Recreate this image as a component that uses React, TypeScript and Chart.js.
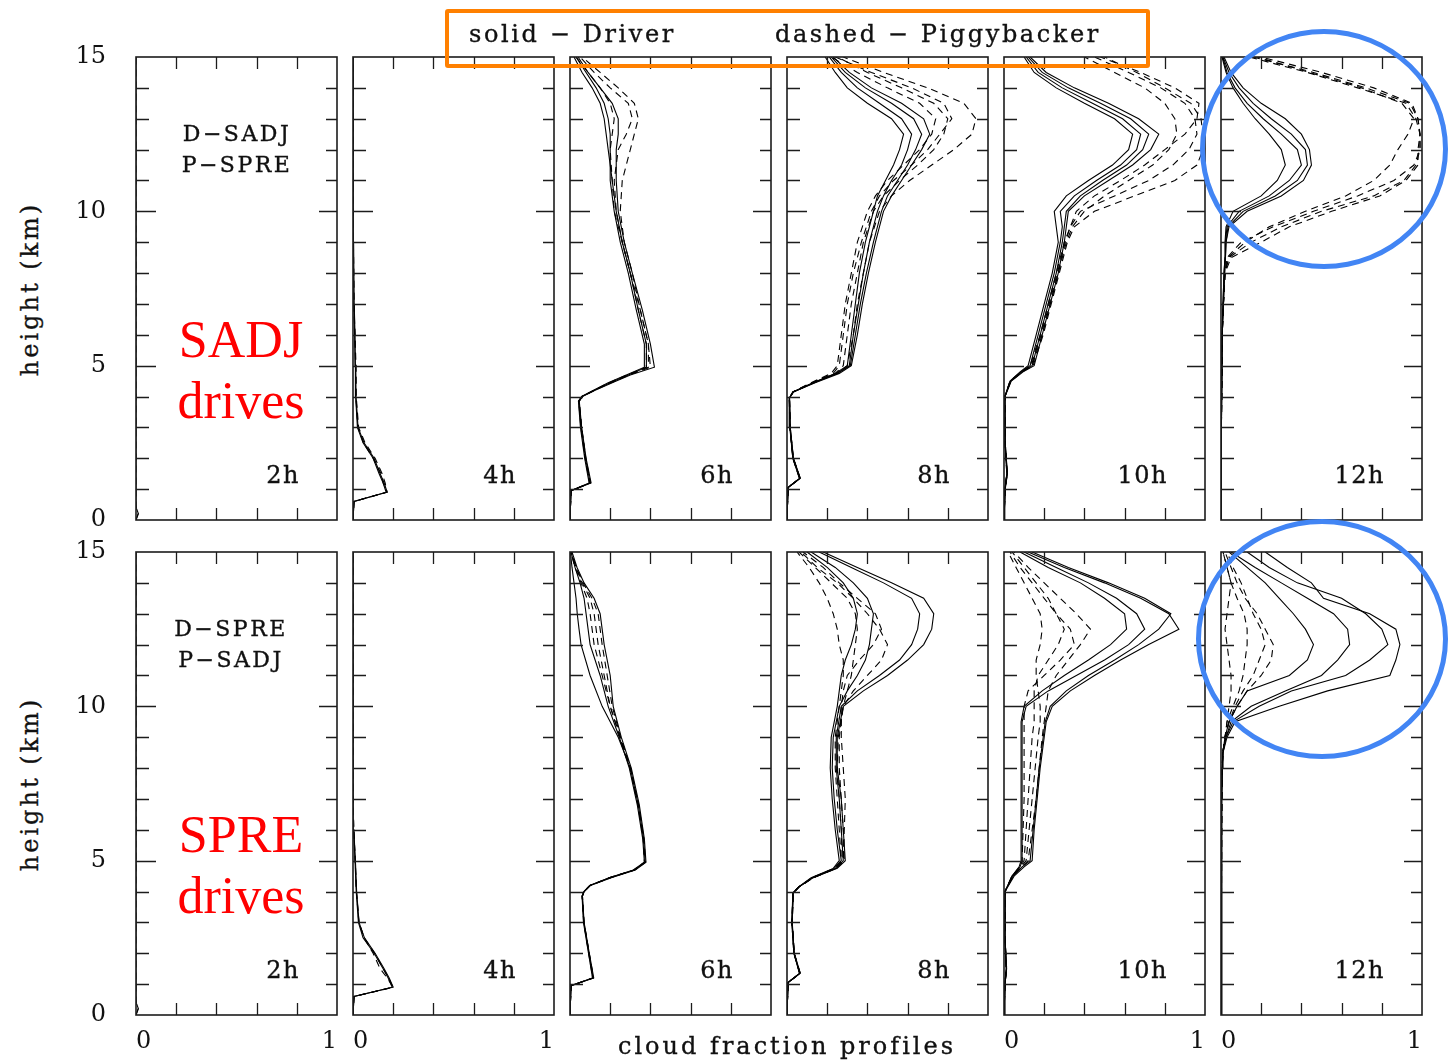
import React, { useEffect, useRef } from "react";
import { Chart, registerables } from "chart.js";

Chart.register(...registerables);

// ---------------- axis / tick definitions ----------------
const yTickValues = [0, 5, 10, 15];
const yTickLabels = ["0", "5", "10", "15"];
const xTickValues = [0, 1];
const xTickLabels = ["0", "1"];
const yTickMarks = [1, 2, 3, 4, 5, 6, 7, 8, 9, 10, 11, 12, 13, 14];
const yMajorMarks = [5, 10];
const xTickMarks = [0.2, 0.4, 0.6, 0.8];
const timeLabels = ["2h", "4h", "6h", "8h", "10h", "12h"];
const xLabelPanels = [0, 1, 4, 5];
const rowTags = [
  ["D\u2212SADJ", "P\u2212SPRE"],
  ["D\u2212SPRE", "P\u2212SADJ"],
];
const rowDrivers = [
  ["SADJ", "drives"],
  ["SPRE", "drives"],
];
const legendSolid = "solid \u2212 Driver";
const legendDashed = "dashed \u2212 Piggybacker";
const yTitle = "height (km)";
const xTitle = "cloud fraction profiles";

// ---------------- height grids (km) ----------------
const h2 = [0, 0.2, 0.35, 0.5, 15];
const h4 = [0, 0.6, 0.9, 1.2, 1.5, 2.0, 2.5, 3.0, 4.0, 5.0, 6.0, 7.0, 9.0, 15];
const h6 = [0, 0.95, 1.2, 2.0, 3.0, 3.85, 4.0, 4.2, 4.45, 4.7, 4.95, 5.7, 6.8, 8.0, 9.0, 10.0, 11.0, 12.0, 12.5, 13.0, 13.5, 14.0, 14.5, 15];
const h8 = [0, 1.05, 1.35, 2.0, 3.0, 3.95, 4.15, 4.45, 4.75, 5.0, 6.0, 7.0, 8.0, 9.0, 10.0, 10.5, 11.0, 11.5, 12.0, 12.5, 13.0, 13.5, 14.0, 14.5, 15];
const h10 = [0, 1.0, 1.5, 2.5, 4.0, 4.5, 4.8, 5.0, 6.0, 7.0, 8.0, 9.0, 9.5, 10.0, 10.5, 11.0, 11.5, 12.0, 12.5, 13.0, 13.5, 14.0, 14.5, 15];
const h12 = [0, 3.0, 6.0, 7.0, 8.0, 8.5, 9.0, 9.5, 10.0, 10.5, 11.0, 11.5, 12.0, 12.5, 13.0, 13.5, 14.0, 14.5, 15];

// ---------------- SADJ drives (row 1) ----------------
const sadj2hSolid = [[0, 0.012, 0.004, 0, 0]];
const sadj2hDashed = [[0, 0.01, 0.003, 0, 0]];

const sadj4hSolid = [
  [0, 0.005, 0.17, 0.155, 0.135, 0.105, 0.055, 0.025, 0.015, 0.014, 0.01, 0.006, 0.003, 0],
  [0, 0.005, 0.165, 0.15, 0.13, 0.1, 0.05, 0.022, 0.013, 0.012, 0.008, 0.004, 0.002, 0],
];
const sadj4hDashed = [
  [0, 0.005, 0.17, 0.16, 0.145, 0.11, 0.06, 0.028, 0.016, 0.015, 0.01, 0.005, 0.002, 0],
  [0, 0.005, 0.168, 0.15, 0.14, 0.1, 0.052, 0.024, 0.014, 0.013, 0.009, 0.004, 0.002, 0],
];

const sadj6hSolid = [
  [0, 0.005, 0.1, 0.077, 0.056, 0.044, 0.06, 0.12, 0.2, 0.29, 0.38, 0.38, 0.34, 0.3, 0.26, 0.23, 0.21, 0.19, 0.18, 0.17, 0.15, 0.11, 0.06, 0.02],
  [0, 0.005, 0.095, 0.073, 0.052, 0.042, 0.058, 0.115, 0.19, 0.28, 0.37, 0.37, 0.33, 0.29, 0.25, 0.22, 0.2, 0.2, 0.2, 0.19, 0.17, 0.13, 0.08, 0.03],
  [0, 0.005, 0.105, 0.08, 0.058, 0.046, 0.062, 0.125, 0.21, 0.3, 0.42, 0.4, 0.36, 0.31, 0.27, 0.24, 0.23, 0.23, 0.24, 0.24, 0.21, 0.15, 0.09, 0.04],
];
const sadj6hDashed = [
  [0, 0.005, 0.1, 0.078, 0.057, 0.045, 0.06, 0.12, 0.2, 0.29, 0.39, 0.39, 0.35, 0.3, 0.26, 0.23, 0.22, 0.24, 0.28, 0.31, 0.29, 0.2, 0.12, 0.05],
  [0, 0.005, 0.098, 0.075, 0.054, 0.043, 0.059, 0.118, 0.195, 0.285, 0.38, 0.38, 0.34, 0.3, 0.26, 0.22, 0.21, 0.2, 0.21, 0.22, 0.2, 0.15, 0.09, 0.03],
  [0, 0.005, 0.102, 0.079, 0.058, 0.046, 0.061, 0.122, 0.205, 0.295, 0.4, 0.39, 0.35, 0.31, 0.27, 0.25, 0.26, 0.3, 0.32, 0.34, 0.32, 0.24, 0.15, 0.06],
];

const sadj8hSolid = [
  [0, 0.005, 0.064, 0.03, 0.015, 0.012, 0.03, 0.13, 0.24, 0.3, 0.32, 0.34, 0.36, 0.39, 0.43, 0.45, 0.49, 0.53, 0.56, 0.58, 0.52, 0.4, 0.3, 0.24, 0.19],
  [0, 0.005, 0.066, 0.032, 0.016, 0.013, 0.032, 0.13, 0.245, 0.31, 0.33, 0.355, 0.38, 0.41, 0.45, 0.48, 0.52, 0.57, 0.6, 0.62, 0.57, 0.46, 0.35, 0.27, 0.21],
  [0, 0.005, 0.062, 0.029, 0.014, 0.011, 0.03, 0.135, 0.25, 0.315, 0.34, 0.365, 0.395, 0.43, 0.47, 0.5, 0.55, 0.6, 0.64, 0.67, 0.63, 0.52, 0.39, 0.29, 0.22],
  [0, 0.005, 0.065, 0.031, 0.016, 0.012, 0.031, 0.14, 0.26, 0.32, 0.35, 0.375, 0.405, 0.44, 0.48, 0.52, 0.57, 0.62, 0.67, 0.71, 0.68, 0.57, 0.42, 0.31, 0.23],
];
const sadj8hDashed = [
  [0, 0.005, 0.063, 0.03, 0.015, 0.012, 0.03, 0.12, 0.22, 0.25, 0.27, 0.29, 0.32, 0.35, 0.4, 0.44, 0.5, 0.58, 0.66, 0.72, 0.74, 0.66, 0.5, 0.35, 0.22],
  [0, 0.005, 0.064, 0.031, 0.015, 0.012, 0.03, 0.13, 0.24, 0.28, 0.3, 0.32, 0.35, 0.38, 0.43, 0.48, 0.56, 0.65, 0.73, 0.78, 0.8, 0.73, 0.57, 0.4, 0.25],
  [0, 0.005, 0.066, 0.032, 0.016, 0.013, 0.032, 0.135, 0.25, 0.3, 0.33, 0.35, 0.38, 0.41, 0.46, 0.52, 0.61, 0.72, 0.83, 0.92, 0.94, 0.88, 0.7, 0.48, 0.28],
  [0, 0.005, 0.062, 0.029, 0.014, 0.011, 0.029, 0.125, 0.23, 0.26, 0.28, 0.3, 0.33, 0.37, 0.42, 0.46, 0.53, 0.62, 0.7, 0.76, 0.82, 0.78, 0.62, 0.42, 0.24],
];

const sadj10hSolid = [
  [0, 0.005, 0.015, 0.005, 0.004, 0.03, 0.08, 0.12, 0.16, 0.2, 0.24, 0.27, 0.26, 0.25, 0.31, 0.42, 0.54, 0.62, 0.64, 0.55, 0.4, 0.26, 0.15, 0.1],
  [0, 0.006, 0.017, 0.006, 0.004, 0.032, 0.085, 0.13, 0.17, 0.21, 0.25, 0.28, 0.29, 0.28, 0.35, 0.46, 0.58, 0.66, 0.68, 0.59, 0.44, 0.29, 0.17, 0.11],
  [0, 0.004, 0.014, 0.005, 0.004, 0.034, 0.09, 0.14, 0.18, 0.22, 0.26, 0.29, 0.3, 0.31, 0.38, 0.49, 0.61, 0.69, 0.72, 0.63, 0.48, 0.32, 0.19, 0.12],
  [0, 0.005, 0.016, 0.006, 0.005, 0.036, 0.095, 0.15, 0.19, 0.23, 0.27, 0.3, 0.31, 0.32, 0.4, 0.52, 0.64, 0.73, 0.77, 0.67, 0.52, 0.35, 0.21, 0.13],
];
const sadj10hDashed = [
  [0, 0.005, 0.015, 0.005, 0.004, 0.03, 0.085, 0.13, 0.18, 0.22, 0.26, 0.3, 0.33, 0.38, 0.55, 0.72, 0.84, 0.92, 0.96, 0.95, 0.9, 0.78, 0.62, 0.45],
  [0, 0.006, 0.016, 0.006, 0.004, 0.032, 0.09, 0.14, 0.19, 0.23, 0.27, 0.31, 0.34, 0.4, 0.5, 0.62, 0.74, 0.82, 0.86, 0.85, 0.8, 0.7, 0.55, 0.4],
  [0, 0.004, 0.014, 0.005, 0.004, 0.034, 0.092, 0.145, 0.195, 0.235, 0.275, 0.315, 0.35, 0.45, 0.65, 0.85, 0.96, 0.99, 0.99, 0.98, 0.93, 0.8, 0.66, 0.5],
  [0, 0.005, 0.015, 0.005, 0.005, 0.031, 0.088, 0.135, 0.185, 0.225, 0.265, 0.305, 0.33, 0.36, 0.45, 0.58, 0.7, 0.8, 0.9, 0.96, 0.97, 0.85, 0.68, 0.48],
];

const sadj12hSolid = [
  [0, 0.002, 0.005, 0.01, 0.015, 0.02, 0.02, 0.025, 0.06, 0.2, 0.28, 0.32, 0.3, 0.24, 0.17, 0.11, 0.06, 0.025, 0.005],
  [0, 0.002, 0.005, 0.01, 0.015, 0.02, 0.022, 0.03, 0.09, 0.24, 0.34, 0.4, 0.38, 0.3, 0.21, 0.13, 0.07, 0.03, 0.008],
  [0, 0.002, 0.006, 0.012, 0.018, 0.022, 0.025, 0.035, 0.11, 0.27, 0.38, 0.43, 0.42, 0.35, 0.25, 0.16, 0.09, 0.04, 0.01],
  [0, 0.002, 0.006, 0.012, 0.018, 0.022, 0.025, 0.04, 0.13, 0.3, 0.41, 0.45, 0.44, 0.4, 0.32, 0.2, 0.11, 0.05, 0.015],
];
const sadj12hDashed = [
  [0, 0.002, 0.006, 0.012, 0.02, 0.04, 0.15, 0.3, 0.5, 0.76, 0.91, 0.97, 0.99, 0.99, 0.98, 0.94, 0.72, 0.46, 0.16],
  [0, 0.002, 0.006, 0.012, 0.02, 0.03, 0.1, 0.26, 0.46, 0.68, 0.86, 0.96, 0.99, 0.99, 0.98, 0.95, 0.76, 0.5, 0.2],
  [0, 0.002, 0.006, 0.012, 0.02, 0.05, 0.2, 0.34, 0.55, 0.79, 0.92, 0.98, 0.98, 0.99, 0.97, 0.92, 0.68, 0.43, 0.14],
  [0, 0.002, 0.006, 0.012, 0.02, 0.035, 0.12, 0.24, 0.42, 0.62, 0.76, 0.84, 0.88, 0.93, 0.96, 0.9, 0.7, 0.44, 0.18],
];

// ---------------- SPRE drives (row 2) ----------------
const spre2hSolid = [[0, 0.012, 0.004, 0, 0]];
const spre2hDashed = [[0, 0.01, 0.003, 0, 0]];

const spre4hSolid = [
  [0, 0.005, 0.2, 0.18, 0.155, 0.11, 0.057, 0.03, 0.018, 0.012, 0.004, 0, 0, 0],
  [0, 0.005, 0.195, 0.175, 0.15, 0.105, 0.05, 0.027, 0.016, 0.01, 0.003, 0, 0, 0],
];
const spre4hDashed = [
  [0, 0.005, 0.2, 0.17, 0.135, 0.1, 0.055, 0.03, 0.017, 0.011, 0.004, 0, 0, 0],
  [0, 0.005, 0.198, 0.178, 0.15, 0.108, 0.056, 0.029, 0.017, 0.011, 0.004, 0, 0, 0],
];

const spre6hSolid = [
  [0, 0.005, 0.115, 0.094, 0.069, 0.061, 0.07, 0.1, 0.2, 0.32, 0.374, 0.366, 0.34, 0.3, 0.24, 0.16, 0.1, 0.055, 0.045, 0.036, 0.03, 0.02, 0.01, 0.002],
  [0, 0.005, 0.112, 0.092, 0.067, 0.06, 0.069, 0.098, 0.195, 0.315, 0.37, 0.362, 0.335, 0.295, 0.245, 0.19, 0.15, 0.1, 0.09, 0.08, 0.07, 0.05, 0.025, 0.005],
  [0, 0.005, 0.118, 0.096, 0.07, 0.062, 0.071, 0.102, 0.205, 0.325, 0.378, 0.37, 0.345, 0.305, 0.255, 0.215, 0.2, 0.17, 0.16, 0.15, 0.12, 0.07, 0.035, 0.01],
];
const spre6hDashed = [
  [0, 0.005, 0.116, 0.095, 0.069, 0.061, 0.07, 0.1, 0.2, 0.32, 0.372, 0.365, 0.34, 0.3, 0.25, 0.2, 0.17, 0.14, 0.13, 0.12, 0.1, 0.06, 0.03, 0.006],
  [0, 0.005, 0.113, 0.093, 0.068, 0.06, 0.069, 0.099, 0.198, 0.318, 0.37, 0.364, 0.338, 0.298, 0.248, 0.2, 0.16, 0.12, 0.11, 0.1, 0.085, 0.055, 0.025, 0.004],
  [0, 0.005, 0.117, 0.096, 0.07, 0.062, 0.071, 0.101, 0.202, 0.322, 0.376, 0.368, 0.342, 0.302, 0.252, 0.21, 0.185, 0.16, 0.15, 0.14, 0.11, 0.065, 0.03, 0.008],
];

const spre8hSolid = [
  [0, 0.005, 0.064, 0.035, 0.025, 0.03, 0.06, 0.13, 0.25, 0.29, 0.28, 0.27, 0.25, 0.25, 0.28, 0.38, 0.5, 0.6, 0.68, 0.72, 0.73, 0.68, 0.52, 0.35, 0.18],
  [0, 0.005, 0.066, 0.036, 0.026, 0.031, 0.06, 0.13, 0.245, 0.28, 0.27, 0.26, 0.245, 0.245, 0.27, 0.35, 0.46, 0.56, 0.62, 0.65, 0.66, 0.62, 0.48, 0.32, 0.16],
  [0, 0.005, 0.062, 0.034, 0.024, 0.029, 0.058, 0.125, 0.235, 0.27, 0.25, 0.235, 0.225, 0.23, 0.26, 0.3, 0.35, 0.39, 0.41, 0.42, 0.43, 0.4, 0.33, 0.24, 0.12],
  [0, 0.005, 0.063, 0.035, 0.025, 0.03, 0.058, 0.12, 0.23, 0.26, 0.24, 0.225, 0.215, 0.22, 0.25, 0.26, 0.27, 0.29, 0.32, 0.34, 0.35, 0.33, 0.28, 0.2, 0.1],
];
const spre8hDashed = [
  [0, 0.005, 0.065, 0.036, 0.026, 0.031, 0.06, 0.13, 0.24, 0.28, 0.285, 0.29, 0.28, 0.27, 0.27, 0.28, 0.3, 0.36, 0.43, 0.47, 0.44, 0.35, 0.26, 0.18, 0.08],
  [0, 0.005, 0.063, 0.034, 0.024, 0.029, 0.058, 0.125, 0.235, 0.27, 0.26, 0.25, 0.24, 0.24, 0.26, 0.27, 0.28, 0.28, 0.26, 0.25, 0.23, 0.2, 0.16, 0.11, 0.05],
  [0, 0.005, 0.064, 0.035, 0.025, 0.03, 0.059, 0.128, 0.24, 0.275, 0.27, 0.26, 0.25, 0.255, 0.28, 0.3, 0.32, 0.33, 0.34, 0.35, 0.34, 0.3, 0.22, 0.14, 0.06],
  [0, 0.005, 0.066, 0.036, 0.026, 0.031, 0.061, 0.132, 0.245, 0.285, 0.28, 0.27, 0.26, 0.26, 0.28, 0.33, 0.4, 0.47, 0.5, 0.46, 0.4, 0.33, 0.25, 0.15, 0.07],
];

const spre10hSolid = [
  [0, 0.004, 0.012, 0.004, 0.005, 0.05, 0.1, 0.14, 0.15, 0.165, 0.18, 0.2, 0.21, 0.24, 0.33, 0.45, 0.58, 0.72, 0.87, 0.82, 0.68, 0.5, 0.3, 0.12],
  [0, 0.005, 0.013, 0.005, 0.005, 0.045, 0.09, 0.13, 0.145, 0.16, 0.175, 0.195, 0.205, 0.23, 0.31, 0.42, 0.55, 0.67, 0.77, 0.83, 0.7, 0.52, 0.32, 0.14],
  [0, 0.004, 0.011, 0.004, 0.005, 0.04, 0.08, 0.09, 0.09, 0.09, 0.09, 0.09, 0.09, 0.11, 0.22, 0.36, 0.5, 0.62, 0.7, 0.66, 0.56, 0.42, 0.26, 0.1],
  [0, 0.005, 0.012, 0.005, 0.005, 0.04, 0.075, 0.085, 0.085, 0.085, 0.085, 0.085, 0.085, 0.1, 0.19, 0.3, 0.42, 0.53, 0.61, 0.6, 0.5, 0.38, 0.22, 0.08],
];
const spre10hDashed = [
  [0, 0.004, 0.012, 0.004, 0.005, 0.045, 0.09, 0.12, 0.14, 0.16, 0.175, 0.19, 0.2, 0.21, 0.22, 0.26, 0.32, 0.38, 0.43, 0.36, 0.28, 0.2, 0.12, 0.05],
  [0, 0.005, 0.013, 0.005, 0.005, 0.04, 0.08, 0.1, 0.11, 0.12, 0.13, 0.14, 0.15, 0.15, 0.15, 0.17, 0.22, 0.27, 0.3, 0.26, 0.2, 0.14, 0.08, 0.03],
  [0, 0.004, 0.011, 0.004, 0.005, 0.045, 0.085, 0.11, 0.125, 0.14, 0.155, 0.17, 0.18, 0.18, 0.17, 0.16, 0.16, 0.18, 0.19, 0.18, 0.14, 0.1, 0.06, 0.02],
  [0, 0.005, 0.012, 0.005, 0.005, 0.04, 0.08, 0.09, 0.095, 0.1, 0.1, 0.1, 0.1, 0.1, 0.12, 0.2, 0.28, 0.35, 0.33, 0.26, 0.22, 0.16, 0.1, 0.04],
];

const spre12hSolid = [
  [0, 0.002, 0.003, 0.004, 0.006, 0.01, 0.03, 0.07, 0.29, 0.53, 0.84, 0.87, 0.89, 0.87, 0.74, 0.51, 0.45, 0.33, 0.22],
  [0, 0.002, 0.003, 0.004, 0.006, 0.01, 0.025, 0.06, 0.19, 0.35, 0.62, 0.74, 0.83, 0.8, 0.72, 0.6, 0.38, 0.24, 0.13],
  [0, 0.002, 0.003, 0.004, 0.006, 0.009, 0.025, 0.05, 0.15, 0.32, 0.5, 0.58, 0.64, 0.63, 0.56, 0.43, 0.3, 0.17, 0.05],
  [0, 0.002, 0.003, 0.004, 0.006, 0.009, 0.02, 0.04, 0.08, 0.13, 0.34, 0.43, 0.46, 0.42, 0.36, 0.29, 0.22, 0.13, 0.04],
];
const spre12hDashed = [
  [0, 0.002, 0.003, 0.004, 0.006, 0.009, 0.02, 0.04, 0.08, 0.13, 0.2, 0.25, 0.26, 0.22, 0.18, 0.12, 0.08, 0.05, 0.02],
  [0, 0.002, 0.003, 0.004, 0.006, 0.009, 0.02, 0.03, 0.06, 0.09, 0.11, 0.12, 0.13, 0.13, 0.115, 0.08, 0.05, 0.03, 0.01],
  [0, 0.002, 0.003, 0.004, 0.006, 0.009, 0.02, 0.03, 0.04, 0.05, 0.05, 0.04, 0.03, 0.02, 0.03, 0.04, 0.05, 0.03, 0.01],
  [0, 0.002, 0.003, 0.004, 0.006, 0.009, 0.02, 0.04, 0.07, 0.11, 0.16, 0.19, 0.22, 0.2, 0.16, 0.13, 0.1, 0.06, 0.03],
];

// tables built from the arrays above
const panelRows = [
  [
    { h: h2, solid: sadj2hSolid, dashed: sadj2hDashed },
    { h: h4, solid: sadj4hSolid, dashed: sadj4hDashed },
    { h: h6, solid: sadj6hSolid, dashed: sadj6hDashed },
    { h: h8, solid: sadj8hSolid, dashed: sadj8hDashed },
    { h: h10, solid: sadj10hSolid, dashed: sadj10hDashed },
    { h: h12, solid: sadj12hSolid, dashed: sadj12hDashed },
  ],
  [
    { h: h2, solid: spre2hSolid, dashed: spre2hDashed },
    { h: h4, solid: spre4hSolid, dashed: spre4hDashed },
    { h: h6, solid: spre6hSolid, dashed: spre6hDashed },
    { h: h8, solid: spre8hSolid, dashed: spre8hDashed },
    { h: h10, solid: spre10hSolid, dashed: spre10hDashed },
    { h: h12, solid: spre12hSolid, dashed: spre12hDashed },
  ],
];

// ---------------- layout ----------------
const PANEL_LEFTS = [136, 353, 570, 787, 1004, 1221];
const PANEL_W = 201;
const ROW_TOPS = [57, 552];
const PANEL_H = 463;
const SERIF = "'DejaVu Serif', serif";
const INK = "#111";
const Y_AXIS_W = 60;
const X_AXIS_H = 40;

const framePlugin = {
  id: "panelFrame",
  afterDatasetsDraw(chart: any) {
    const { ctx, chartArea: a, scales } = chart;
    const x = scales.x;
    const y = scales.y;
    ctx.save();
    ctx.strokeStyle = "#1c1c1c";
    ctx.lineWidth = 1.6;
    ctx.strokeRect(a.left, a.top, a.right - a.left, a.bottom - a.top);
    ctx.beginPath();
    yTickMarks.forEach((v) => {
      const py = Math.round(y.getPixelForValue(v)) + 0.5;
      const major = yMajorMarks.includes(v);
      ctx.moveTo(a.left, py);
      ctx.lineTo(a.left + (major ? 20 : 13), py);
      ctx.moveTo(a.right, py);
      ctx.lineTo(a.right - (major ? 18 : 11), py);
    });
    xTickMarks.forEach((v) => {
      const px = Math.round(x.getPixelForValue(v)) + 0.5;
      ctx.moveTo(px, a.top);
      ctx.lineTo(px, a.top + 12);
      ctx.moveTo(px, a.bottom);
      ctx.lineTo(px, a.bottom - 12);
    });
    ctx.lineWidth = 1.3;
    ctx.stroke();
    ctx.restore();
  },
};

function Panel({ row, col }: { row: number; col: number }) {
  const ref = useRef<HTMLCanvasElement>(null);
  const showY = col === 0;
  const showX = row === 1 && xLabelPanels.includes(col);
  const padL = showY ? 80 : 20;
  const padR = 20;
  const padT = showY ? 50 : 16;
  const padB = row === 1 || showY ? 50 : 16;
  const width = PANEL_W + padL + padR;
  const height = PANEL_H + padT + padB;

  useEffect(() => {
    const p = panelRows[row][col];
    const datasets: any[] = [];
    p.solid.forEach((m) => {
      datasets.push({
        data: m.map((v, i) => ({ x: v, y: p.h[i] })),
        showLine: true,
        borderColor: "#000",
        borderWidth: 1.1,
        pointRadius: 0,
        tension: 0,
        fill: false,
      });
    });
    p.dashed.forEach((m) => {
      datasets.push({
        data: m.map((v, i) => ({ x: v, y: p.h[i] })),
        showLine: true,
        borderColor: "#000",
        borderWidth: 1.1,
        borderDash: [7, 5],
        pointRadius: 0,
        tension: 0,
        fill: false,
      });
    });
    const xScale: any = {
      type: "linear",
      min: 0,
      max: 1,
      display: showX,
      position: "bottom",
      grid: { display: false, drawTicks: false },
      border: { display: false },
      ticks: {
        stepSize: 1,
        align: "inner",
        padding: 12,
        maxRotation: 0,
        autoSkip: false,
        color: INK,
        font: { family: SERIF, size: 24 },
        callback: (v: any) => {
          const i = xTickValues.indexOf(Number(v));
          return i >= 0 ? xTickLabels[i] : "";
        },
      },
    };
    if (showX) {
      xScale.afterFit = (s: any) => {
        s.height = X_AXIS_H;
      };
    }
    const yScale: any = {
      type: "linear",
      min: 0,
      max: 15,
      display: showY,
      position: "left",
      grid: { display: false, drawTicks: false },
      border: { display: false },
      ticks: {
        stepSize: 5,
        padding: 30,
        autoSkip: false,
        color: INK,
        font: { family: SERIF, size: 24 },
        callback: (v: any) => {
          const i = yTickValues.indexOf(Number(v));
          return i >= 0 ? yTickLabels[i] : "";
        },
      },
    };
    if (showY) {
      yScale.afterFit = (s: any) => {
        s.width = Y_AXIS_W;
      };
    }
    const chart = new Chart(ref.current as HTMLCanvasElement, {
      type: "scatter",
      data: { datasets },
      options: {
        animation: false,
        responsive: false,
        devicePixelRatio: 1,
        events: [],
        layout: {
          padding: {
            left: showY ? padL - Y_AXIS_W : padL,
            right: padR,
            top: padT,
            bottom: showX ? padB - X_AXIS_H : padB,
          },
        },
        plugins: { legend: { display: false }, tooltip: { enabled: false } },
        scales: { x: xScale, y: yScale },
      } as any,
      plugins: [framePlugin],
    });
    return () => chart.destroy();
  }, [row, col]);

  return (
    <canvas
      ref={ref}
      width={width}
      height={height}
      style={{
        position: "absolute",
        left: PANEL_LEFTS[col] - padL,
        top: ROW_TOPS[row] - padT,
        width,
        height,
        display: "block",
      }}
    />
  );
}

function Txt({
  x,
  y,
  text,
  size = 24,
  color = INK,
  family = SERIF,
  anchor = "center",
  rotate = 0,
  spacing = 0,
  stroke = 0.35,
}: any) {
  const tx = anchor === "left" ? "0" : anchor === "right" ? "-100%" : "-50%";
  return (
    <div
      style={{
        position: "absolute",
        left: x,
        top: y,
        transform: `translate(${tx}, -50%)${rotate ? ` rotate(${rotate}deg)` : ""}`,
        fontFamily: family,
        fontSize: size,
        lineHeight: 1,
        color,
        whiteSpace: "nowrap",
        letterSpacing: spacing,
        WebkitTextStroke: stroke ? `${stroke}px ${color}` : undefined,
      }}
    >
      {text}
    </div>
  );
}

export default function App() {
  const cells: any[] = [];
  for (let r = 0; r < 2; r++) {
    for (let c = 0; c < 6; c++) {
      cells.push(<Panel key={`p${r}${c}`} row={r} col={c} />);
    }
  }
  return (
    <div
      style={{
        position: "absolute",
        left: 0,
        top: 0,
        width: 1449,
        height: 1064,
        overflow: "hidden",
        background: "#fff",
      }}
    >
      {cells}
      {[0, 1].map((r) => (
        <React.Fragment key={`t${r}`}>
          <Txt x={30} y={ROW_TOPS[r] + 232} text={yTitle} rotate={-90} size={24} spacing={3} />
          <Txt x={r === 0 ? 237 : 231} y={ROW_TOPS[r] + 77} text={rowTags[r][0]} size={22} spacing={2.5} />
          <Txt x={r === 0 ? 237 : 231} y={ROW_TOPS[r] + 108} text={rowTags[r][1]} size={22} spacing={2.5} />
          <Txt x={241} y={ROW_TOPS[r] + 283} text={rowDrivers[r][0]} size={52} color="#ff0000" family="'Liberation Serif', serif" stroke={0} />
          <Txt x={241} y={ROW_TOPS[r] + 344} text={rowDrivers[r][1]} size={52} color="#ff0000" family="'Liberation Serif', serif" stroke={0} />
          {timeLabels.map((t, c) => (
            <Txt key={t} x={PANEL_LEFTS[c] + PANEL_W - 37} y={ROW_TOPS[r] + 418} text={t} anchor="right" size={24} spacing={1.5} />
          ))}
        </React.Fragment>
      ))}
      <Txt x={787} y={1046} text={xTitle} size={24} spacing={3} />
      <div
        style={{
          position: "absolute",
          left: 445,
          top: 9,
          width: 705,
          height: 59,
          boxSizing: "border-box",
          border: "4px solid #ff8000",
          borderRadius: 3,
        }}
      />
      <Txt x={469} y={34} text={legendSolid} anchor="left" size={24} spacing={2.6} />
      <Txt x={775} y={34} text={legendDashed} anchor="left" size={24} spacing={2.6} />
      <div
        style={{
          position: "absolute",
          left: 1200,
          top: 29,
          width: 248,
          height: 240,
          boxSizing: "border-box",
          border: "5px solid #4285f4",
          borderRadius: "50%",
        }}
      />
      <div
        style={{
          position: "absolute",
          left: 1196,
          top: 519,
          width: 252,
          height: 240,
          boxSizing: "border-box",
          border: "5px solid #4285f4",
          borderRadius: "50%",
        }}
      />
    </div>
  );
}
